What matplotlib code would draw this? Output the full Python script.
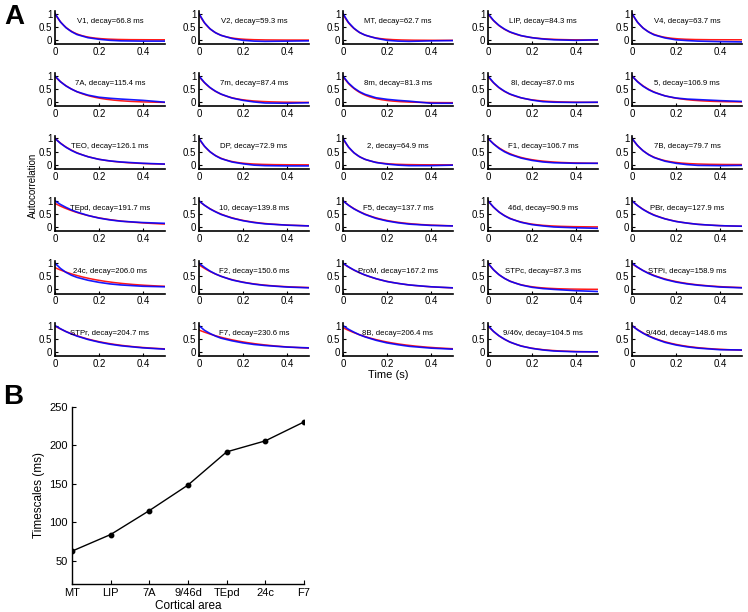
import numpy as np
import matplotlib
matplotlib.use("Agg")
import matplotlib.pyplot as plt

plt.rcParams['font.family'] = ['Liberation Sans', 'DejaVu Sans']

# ---- Panel A data: area name, fitted decay (ms), fit amplitude/offset, measured autocorrelation ----
lags = [0, 0.025, 0.05, 0.075, 0.1, 0.15, 0.2, 0.25, 0.3, 0.4, 0.5]

areas = ['V1', 'V2', 'MT', 'LIP', 'V4',
         '7A', '7m', '8m', '8l', '5',
         'TEO', 'DP', '2', 'F1', '7B',
         'TEpd', '10', 'F5', '46d', 'PBr',
         '24c', 'F2', 'ProM', 'STPc', 'STPi',
         'STPr', 'F7', '8B', '9/46v', '9/46d']

decay_ms = [66.8, 59.3, 62.7, 84.3, 63.7,
            115.4, 87.4, 81.3, 87.0, 106.9,
            126.1, 72.9, 64.9, 106.7, 79.7,
            191.7, 139.8, 137.7, 90.9, 127.9,
            206.0, 150.6, 167.2, 87.3, 158.9,
            204.7, 230.6, 206.4, 104.5, 148.6]

fit_amp = [1.0, 1.0, 1.0, 1.0, 1.0,
           1.0, 1.0, 1.0, 1.0, 1.0,
           1.0, 1.0, 1.0, 0.96, 1.0,
           0.85, 0.97, 0.98, 1.0, 0.99,
           0.78, 0.9, 0.98, 1.0, 0.95,
           0.95, 0.78, 0.88, 1.0, 0.97]

fit_off = [0.0, -0.01, -0.02, -0.01, 0.0,
           -0.02, -0.01, -0.02, -0.01, 0.0,
           0.0, -0.01, -0.01, 0.04, 0.0,
           0.05, 0.02, 0.02, 0.0, 0.01,
           0.05, 0.04, 0.01, 0.0, 0.03,
           0.03, 0.05, 0.04, -0.01, 0.03]

acf_data = [
    [1.0, 0.68, 0.46, 0.31, 0.20, 0.08, 0.02, -0.02, -0.04, -0.05, -0.05],
    [1.0, 0.65, 0.42, 0.27, 0.17, 0.05, -0.02, -0.05, -0.06, -0.05, -0.04],
    [1.0, 0.66, 0.44, 0.28, 0.18, 0.06, -0.02, -0.05, -0.06, -0.04, -0.03],
    [1.0, 0.74, 0.55, 0.41, 0.30, 0.16, 0.08, 0.03, 0.0, -0.02, 0.0],
    [1.0, 0.67, 0.45, 0.30, 0.19, 0.07, 0.0, -0.03, -0.05, -0.07, -0.08],
    [1.0, 0.78, 0.62, 0.50, 0.40, 0.27, 0.19, 0.15, 0.12, 0.07, 0.0],
    [1.0, 0.75, 0.56, 0.42, 0.31, 0.16, 0.07, 0.01, -0.03, -0.04, -0.02],
    [1.0, 0.73, 0.54, 0.40, 0.30, 0.17, 0.11, 0.07, 0.04, -0.04, -0.04],
    [1.0, 0.75, 0.56, 0.42, 0.31, 0.17, 0.08, 0.02, 0.0, -0.01, 0.0],
    [1.0, 0.78, 0.61, 0.48, 0.38, 0.24, 0.16, 0.12, 0.10, 0.06, 0.03],
    [1.0, 0.81, 0.66, 0.54, 0.44, 0.30, 0.20, 0.14, 0.10, 0.05, 0.02],
    [1.0, 0.70, 0.49, 0.34, 0.23, 0.10, 0.03, -0.02, -0.04, -0.05, -0.05],
    [1.0, 0.67, 0.45, 0.30, 0.20, 0.08, 0.02, -0.02, -0.04, -0.04, -0.02],
    [1.0, 0.79, 0.62, 0.49, 0.39, 0.25, 0.16, 0.10, 0.07, 0.05, 0.05],
    [1.0, 0.73, 0.53, 0.38, 0.27, 0.13, 0.05, 0.0, -0.03, -0.04, -0.03],
    [1.0, 0.86, 0.75, 0.65, 0.57, 0.44, 0.34, 0.27, 0.22, 0.17, 0.14],
    [1.0, 0.83, 0.69, 0.58, 0.48, 0.34, 0.24, 0.17, 0.12, 0.07, 0.04],
    [1.0, 0.83, 0.69, 0.58, 0.48, 0.33, 0.23, 0.16, 0.11, 0.06, 0.04],
    [1.0, 0.76, 0.57, 0.43, 0.32, 0.18, 0.09, 0.04, 0.0, -0.03, -0.05],
    [1.0, 0.82, 0.67, 0.55, 0.45, 0.31, 0.21, 0.15, 0.10, 0.05, 0.03],
    [1.0, 0.80, 0.65, 0.54, 0.46, 0.35, 0.27, 0.21, 0.17, 0.12, 0.10],
    [1.0, 0.84, 0.70, 0.59, 0.50, 0.36, 0.27, 0.20, 0.15, 0.09, 0.06],
    [1.0, 0.86, 0.74, 0.64, 0.55, 0.41, 0.30, 0.23, 0.17, 0.10, 0.06],
    [1.0, 0.75, 0.56, 0.42, 0.31, 0.17, 0.08, 0.03, 0.0, -0.05, -0.08],
    [1.0, 0.85, 0.72, 0.61, 0.52, 0.38, 0.28, 0.21, 0.16, 0.09, 0.06],
    [1.0, 0.88, 0.77, 0.68, 0.60, 0.47, 0.37, 0.29, 0.23, 0.15, 0.10],
    [1.0, 0.82, 0.70, 0.60, 0.52, 0.42, 0.34, 0.28, 0.24, 0.18, 0.15],
    [1.0, 0.86, 0.75, 0.65, 0.57, 0.44, 0.34, 0.27, 0.21, 0.14, 0.10],
    [1.0, 0.78, 0.61, 0.48, 0.37, 0.22, 0.13, 0.07, 0.03, 0.0, 0.0],
    [1.0, 0.84, 0.71, 0.60, 0.51, 0.36, 0.26, 0.19, 0.14, 0.08, 0.07],
]

# ---- Panel B data ----
b_areas = ['MT', 'LIP', '7A', '9/46d', 'TEpd', '24c', 'F7']
b_timescales = [62.7, 84.3, 115.4, 148.6, 191.7, 206.0, 230.6]

W, H = 748, 612
fig = plt.figure(figsize=(W / 100, H / 100), dpi=100)

def style_axes(ax, lw=1.2):
    for s in ['top', 'right']:
        ax.spines[s].set_visible(False)
    for s in ['left', 'bottom']:
        ax.spines[s].set_linewidth(lw)
    ax.tick_params(direction='in', length=2.5, width=0.8, pad=2)

col_left = [55, 199, 343, 488, 632]
ax_w, ax_h = 110, 33
t_fit = np.linspace(0, 0.5, 200)

for i, name in enumerate(areas):
    r, c = divmod(i, 5)
    top = 11 + 62.4 * r
    ax = fig.add_axes([col_left[c] / W, 1 - (top + ax_h) / H, ax_w / W, ax_h / H])
    tau = decay_ms[i] / 1000
    ax.plot(t_fit, fit_amp[i] * np.exp(-t_fit / tau) + fit_off[i], color='red', lw=1.1, alpha=0.9)
    ax.plot(lags, acf_data[i], color='blue', lw=1.2, alpha=0.9)
    ax.set_xlim(0, 0.5)
    ax.set_ylim(-0.16, 1.1)
    ax.set_xticks([0, 0.2, 0.4])
    ax.set_xticklabels(['0', '0.2', '0.4'])
    ax.set_yticks([0, 0.5, 1])
    ax.set_yticklabels(['0', '0.5', '1'])
    ax.tick_params(labelsize=7)
    style_axes(ax)
    ax.text(0.5, 0.68, f'{name}, decay={decay_ms[i]:.1f} ms', transform=ax.transAxes,
            ha='center', va='center', fontsize=5.6)

fig.text(33 / W, 1 - 185 / H, 'Autocorrelation', rotation=90, ha='center', va='center', fontsize=7)
fig.text(388 / W, 1 - 375 / H, 'Time (s)', ha='center', va='center', fontsize=8)
fig.text(14 / W, 1 - 17 / H, 'A', ha='center', va='center', fontsize=20, fontweight='bold')

# ---- Panel B ----
axb = fig.add_axes([72 / W, 1 - 584 / H, 232 / W, 177 / H])
xb = np.arange(len(b_areas))
axb.plot(xb, b_timescales, color='black', lw=1, marker='o', markersize=3.2)
axb.set_xlim(0, len(b_areas) - 1)
axb.set_ylim(20, 250)
axb.set_xticks(xb)
axb.set_xticklabels(b_areas)
axb.set_yticks([50, 100, 150, 200, 250])
axb.tick_params(labelsize=8)
style_axes(axb, lw=1)
axb.tick_params(length=3, pad=3)
axb.set_xlabel('Cortical area', fontsize=8.5, labelpad=1)
axb.set_ylabel('Timescales (ms)', fontsize=8.5, labelpad=3)
fig.text(13 / W, 1 - 397 / H, 'B', ha='center', va='center', fontsize=20, fontweight='bold')

fig.savefig('out.png', dpi=100)
